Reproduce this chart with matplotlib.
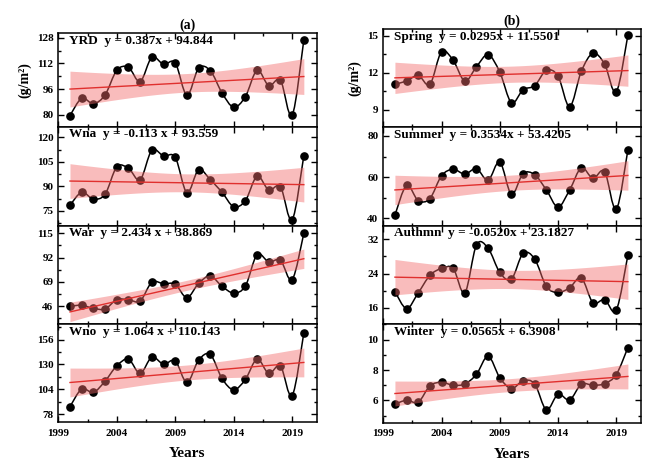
import numpy as np
import matplotlib
matplotlib.use("Agg")
import matplotlib.pyplot as plt
from matplotlib.path import Path
from matplotlib.patches import PathPatch
from matplotlib.ticker import FixedLocator

plt.rcParams["font.family"] = ["Liberation Serif", "DejaVu Serif"]
plt.rcParams["font.weight"] = "bold"
plt.rcParams["axes.linewidth"] = 1.1

years = np.arange(2000, 2021)

# (a) regions
yrd = [79.6, 90.3, 87.0, 92.4, 107.7, 109.6, 100.7, 115.8, 111.4, 112.3, 92.2,
       109.0, 107.5, 93.7, 84.8, 91.4, 107.7, 98.2, 101.5, 79.8, 126.6]
wna = [78.5, 86.4, 82.3, 85.2, 101.9, 101.1, 94.1, 112.1, 108.6, 107.8, 86.2,
       100.2, 94.1, 86.4, 77.6, 81.3, 96.2, 87.8, 89.7, 69.5, 108.8]
war = [46.0, 47.0, 44.1, 43.5, 52.3, 52.3, 51.0, 68.7, 67.4, 66.8, 54.2,
       67.7, 74.7, 64.9, 58.6, 65.2, 94.8, 87.9, 89.5, 71.2, 115.0]
wno = [85.7, 104.2, 100.7, 112.5, 128.6, 135.6, 120.6, 137.7, 130.3, 133.8, 111.2,
       134.5, 140.5, 115.3, 103.5, 114.3, 135.6, 120.6, 128.3, 97.2, 163.2]
# (b) seasons
spring = [11.08, 11.32, 11.78, 11.05, 13.70, 13.00, 11.32, 12.49, 13.46, 12.05, 9.57,
          10.62, 10.95, 12.19, 11.73, 9.24, 12.11, 13.57, 12.70, 10.43, 15.05]
summer = [41.6, 56.0, 48.6, 49.6, 60.7, 63.8, 61.5, 64.1, 58.5, 67.4, 51.7,
          61.7, 61.2, 53.8, 45.5, 53.8, 64.5, 59.4, 62.7, 44.4, 73.2]
autumn = [19.8, 15.84, 19.5, 23.57, 25.2, 25.2, 19.5, 30.67, 29.9, 24.27, 22.7,
          28.7, 27.4, 21.0, 19.6, 20.7, 23.0, 17.2, 17.95, 15.45, 28.3]
winter = [5.76, 6.02, 5.89, 6.96, 7.20, 7.00, 7.09, 7.72, 8.91, 7.50, 6.78,
          7.30, 7.09, 5.39, 6.41, 6.04, 7.07, 7.00, 7.11, 7.70, 9.48]

left_panels = [
    ("YRD  y = 0.387x + 94.844", yrd, (72.7, 130.7), [80, 96, 112, 128]),
    ("Wna  y = -0.113 x + 93.559", wna, (65.8, 126.5), [75, 90, 105, 120]),
    ("War  y = 2.434 x + 38.869", war, (29.0, 121.9), [46, 69, 92, 115]),
    ("Wno  y = 1.064 x + 110.143", wno, (69.3, 172.2), [78, 104, 130, 156]),
]
right_panels = [
    ("Spring  y = 0.0295x + 11.5501", spring, (7.57, 15.52), [9, 12, 15]),
    ("Summer  y = 0.3534x + 53.4205", summer, (36.3, 84.2), [40, 60, 80]),
    ("Authmn  y = -0.0520x + 23.1827", autumn, (12.17, 35.1), [16, 24, 32]),
    ("Winter  y = 0.0565x + 6.3908", winter, (4.54, 11.01), [6, 8, 10]),
]

W, H = 669, 469
T975 = 2.093  # t(0.975, df=19)


def spline_path(x, y):
    # Catmull-Rom curve through the points, drawn as cubic Bezier segments
    x = np.asarray(x, float)
    y = np.asarray(y, float)
    px = np.concatenate([[x[0]], x, [x[-1]]])
    py = np.concatenate([[y[0]], y, [y[-1]]])
    verts = [(x[0], y[0])]
    codes = [Path.MOVETO]
    for i in range(1, len(px) - 2):
        c1 = (px[i] + (px[i + 1] - px[i - 1]) / 6, py[i] + (py[i + 1] - py[i - 1]) / 6)
        c2 = (px[i + 1] - (px[i + 2] - px[i]) / 6, py[i + 1] - (py[i + 2] - py[i]) / 6)
        verts += [c1, c2, (px[i + 1], py[i + 1])]
        codes += [Path.CURVE4] * 3
    return Path(verts, codes)


def draw_panel(ax, label, vals, ylim, yticks, bottom):
    vals = np.asarray(vals, float)
    ax.add_patch(PathPatch(spline_path(years, vals), fill=False, lw=1.1,
                           edgecolor="black", zorder=2))
    ax.plot(years, vals, "o", color="black", ms=5.2, zorder=3)

    # linear fit with 95% confidence band
    slope, icpt = np.polyfit(years, vals, 1)
    resid = vals - (slope * years + icpt)
    s = np.sqrt(np.sum(resid ** 2) / (len(vals) - 2))
    xg = np.linspace(years[0], years[-1], 100)
    yg = slope * xg + icpt
    se = s * np.sqrt(1 / len(vals) + (xg - years.mean()) ** 2 / np.sum((years - years.mean()) ** 2))
    ax.fill_between(xg, yg - T975 * se, yg + T975 * se, color="#F26B6B",
                    alpha=0.45, lw=0, zorder=4)
    ax.plot(xg, yg, color="#E0302E", lw=1.0, zorder=5)

    ax.text(0.04, 0.985, label, transform=ax.transAxes, ha="left", va="top",
            fontsize=9.5, fontweight="bold", zorder=6)

    ax.set_xlim(1999, 2021.1)
    ax.set_ylim(*ylim)
    ax.set_xticks([1999, 2004, 2009, 2014, 2019])
    ax.xaxis.set_minor_locator(FixedLocator(np.arange(1999, 2022, 2.5)))
    ax.set_yticks(yticks)
    step = yticks[1] - yticks[0]
    ax.yaxis.set_minor_locator(FixedLocator(np.arange(yticks[0] - step / 2, ylim[1], step)))
    ax.tick_params(which="both", direction="in", top=True, right=True,
                   labelsize=8, width=1.0, pad=3.5)
    ax.tick_params(axis="x", pad=4.5)
    ax.tick_params(which="major", length=4)
    ax.tick_params(which="minor", length=2.5)
    if not bottom:
        ax.tick_params(labelbottom=False)


fig = plt.figure(figsize=(W / 100, H / 100), dpi=100)

columns = [
    (58.3, 316.7, [33.3, 126.7, 226.0, 324.3, 422.3], left_panels, "(a)"),
    (383.3, 640.7, [29.3, 127.3, 226.0, 324.3, 422.7], right_panels, "(b)"),
]

for x0, x1, edges, panels, tag in columns:
    axes = []
    for i, (label, vals, ylim, yticks) in enumerate(panels):
        top, bot = edges[i], edges[i + 1]
        ax = fig.add_axes([x0 / W, 1 - bot / H, (x1 - x0) / W, (bot - top) / H])
        draw_panel(ax, label, vals, ylim, yticks, bottom=(i == len(panels) - 1))
        axes.append(ax)
    axes[0].set_title(tag, fontsize=10, fontweight="bold", pad=3)
    axes[0].set_ylabel("(g/m²)", fontsize=10, fontweight="bold", labelpad=4)
    axes[-1].set_xlabel("Years", fontsize=11, fontweight="bold", labelpad=7)

fig.savefig("out.png", dpi=100)
